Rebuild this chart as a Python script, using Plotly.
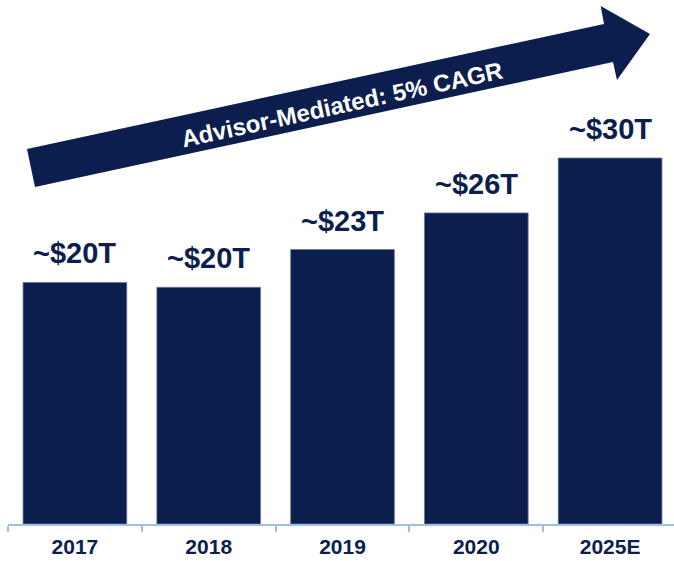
import plotly.graph_objects as go

categories = ["2017", "2018", "2019", "2020", "2025E"]
values = [19.8, 19.4, 22.5, 25.5, 30.0]
value_labels = ["~$20T", "~$20T", "~$23T", "~$26T", "~$30T"]
arrow_text = "Advisor-Mediated: 5% CAGR"

W, H = 674, 561
L, R, T, B = 8, 0, 0, 37
PW, PH = W - L - R, H - T - B
NAVY = "#0b1e4d"
FONT = "Liberation Sans, Arial, sans-serif"

def px(x):
    return (x - L) / PW

def py(y):
    return (H - B - y) / PH

fig = go.Figure()
fig.add_trace(go.Bar(
    x=categories, y=values, width=0.775,
    marker=dict(color=NAVY, line=dict(color="#6b7896", width=0.8)),
    hoverinfo="skip",
))

for i, (v, t) in enumerate(zip(values, value_labels)):
    fig.add_annotation(x=i, y=v, text=t, showarrow=False, yanchor="middle",
                       yshift=29, font=dict(family=FONT, size=29, color=NAVY, weight="bold"))

pts = [(27, 149), (604, 24), (600.7, 6), (650, 34), (617, 80), (613, 62), (35, 187)]
path = "M " + " L ".join(f"{px(a):.5f},{py(b):.5f}" for a, b in pts) + " Z"
fig.add_shape(type="path", path=path, xref="paper", yref="paper",
              fillcolor=NAVY, line=dict(width=0), layer="below")

fig.add_annotation(x=px(342), y=py(105), xref="paper", yref="paper",
                   xanchor="center", yanchor="middle",
                   text=arrow_text, showarrow=False, textangle=-12.2,
                   font=dict(family=FONT, size=24, color="white", weight="bold"))

fig.update_layout(
    width=W, height=H,
    margin=dict(l=L, r=R, t=T, b=B),
    plot_bgcolor="rgba(0,0,0,0)", paper_bgcolor="white",
    showlegend=False,
    xaxis=dict(type="category", range=[-0.5, 4.5 - 3 / 133.8], showline=True,
               linecolor="#9dbfe8", linewidth=1.5, ticks="outside",
               tickson="boundaries", ticklen=6, tickcolor="#9dbfe8", tickwidth=1.5,
               showgrid=False, ticklabelstandoff=3,
               tickfont=dict(family=FONT, size=21, color=NAVY, weight="bold")),
    yaxis=dict(range=[0, PH / 12.2], visible=False, showgrid=False),
)

fig.write_html("out.html", post_script="document.body.style.margin='0';",
               config={"displayModeBar": False})
